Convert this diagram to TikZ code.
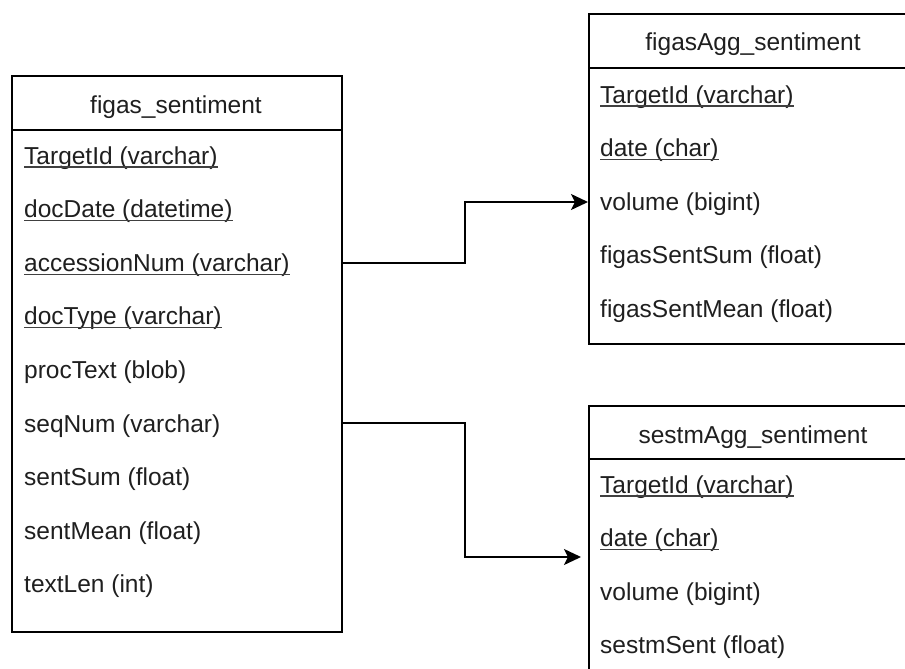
\documentclass[tikz,border=0pt]{standalone}
\usepackage{fontspec}
\setmainfont{Liberation Sans}
\usetikzlibrary{arrows.meta}
\tikzset{
  tbl/.style={draw, line width=1.6pt, anchor=north west, inner sep=0pt, minimum width=330pt},
  sep/.style={line width=1.6pt},
  fld/.style={anchor=base west, inner sep=0pt, text=black!88, font=\fontsize{24.5}{28}\selectfont},
  hdr/.style={anchor=base, inner sep=0pt, text=black!88, font=\fontsize{24.5}{28}\selectfont},
  uline/.style={draw=black!75, line width=1.3pt},
  conn/.style={line width=1.6pt, -{Stealth[length=17pt,width=16pt,inset=4pt]}}
}
\begin{document}
\begin{tikzpicture}[x=1pt,y=-1pt]
\useasboundingbox (0,0) rectangle (905,669);
\clip (0,0) rectangle (905,669);
% tables
\node[tbl, minimum height=556pt] (figas) at (11,75) {};
\node[tbl, minimum height=330pt] (fagg) at (588,13) {};
\node[tbl, minimum height=330pt] (sagg) at (588,405) {};
\draw[sep] (figas.west |- 0,130) -- (figas.east |- 0,130);
\draw[sep] (fagg.west |- 0,68) -- (fagg.east |- 0,68);
\draw[sep] (sagg.west |- 0,459) -- (sagg.east |- 0,459);
% headers
\node[hdr] (h1) at (176,113) {figas\_sentiment};
\node[hdr] (h2) at (753,51) {figasAgg\_sentiment};
\node[hdr] (h3) at (753,443) {sestmAgg\_sentiment};
% figas_sentiment fields
\node[fld] (f1) at (24,164.0) {TargetId (varchar)};
\node[fld] (f2) at (24,217.6) {docDate (datetime)};
\node[fld] (f3) at (24,271.2) {accessionNum (varchar)};
\node[fld] (f4) at (24,324.8) {docType (varchar)};
\node[fld] (f5) at (24,378.4) {procText (blob)};
\node[fld] (f6) at (24,432.0) {seqNum (varchar)};
\node[fld] (f7) at (24,485.6) {sentSum (float)};
\node[fld] (f8) at (24,539.2) {sentMean (float)};
\node[fld] (f9) at (24,592.8) {textLen (int)};
% figasAgg_sentiment fields
\node[fld] (a1) at (600,103.0) {TargetId (varchar)};
\node[fld] (a2) at (600,156.6) {date (char)};
\node[fld] (a3) at (600,210.2) {volume (bigint)};
\node[fld] (a4) at (600,263.8) {figasSentSum (float)};
\node[fld] (a5) at (600,317.4) {figasSentMean (float)};
% sestmAgg_sentiment fields
\node[fld] (s1) at (600,493.0) {TargetId (varchar)};
\node[fld] (s2) at (600,546.6) {date (char)};
\node[fld] (s3) at (600,600.2) {volume (bigint)};
\node[fld] (s4) at (600,653.8) {sestmSent (float)};
% underlines of key fields
\foreach \n in {f1,f2,f3,f4,a1,a2,s1,s2}
  \draw[uline] ([yshift=-3pt]\n.base west) -- ([yshift=-3pt]\n.base east);
% connectors
\coordinate (c1) at (465,0);
\draw[conn] (figas.east |- 0,263) -| (c1 |- 0,202) -- (fagg.west |- 0,202);
\draw[conn] (figas.east |- 0,423) -| (c1 |- 0,557) -- ([xshift=-7pt]sagg.west |- 0,557);
\end{tikzpicture}
\end{document}
